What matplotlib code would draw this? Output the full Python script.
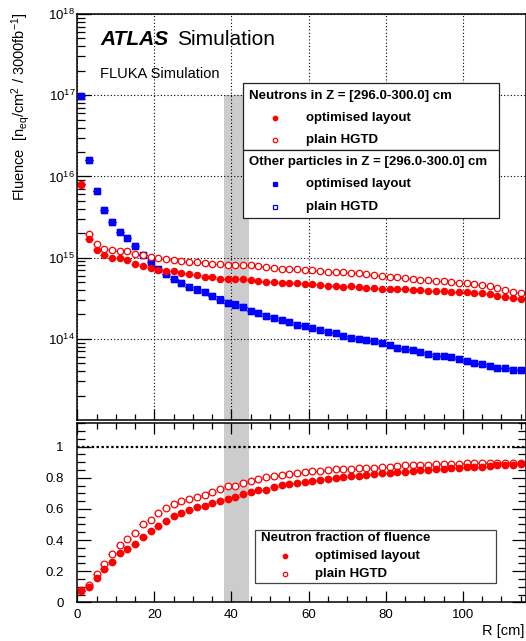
import numpy as np
import matplotlib.pyplot as plt
from matplotlib.patches import Rectangle
from matplotlib.lines import Line2D
from matplotlib.ticker import MultipleLocator, LogLocator, NullFormatter

plt.rcParams['font.family'] = ['Liberation Sans', 'DejaVu Sans']
plt.rcParams['mathtext.fontset'] = 'custom'
plt.rcParams['mathtext.rm'] = 'Liberation Sans'
plt.rcParams['mathtext.it'] = 'Liberation Sans:italic'
plt.rcParams['mathtext.bf'] = 'Liberation Sans:bold'

# bin centres in R [cm]
R = [1, 3, 5, 7, 9, 11, 13, 15, 17, 19,
     21, 23, 25, 27, 29, 31, 33, 35, 37, 39,
     41, 43, 45, 47, 49, 51, 53, 55, 57, 59,
     61, 63, 65, 67, 69, 71, 73, 75, 77, 79,
     81, 83, 85, 87, 89, 91, 93, 95, 97, 99,
     101, 103, 105, 107, 109, 111, 113, 115]

# neutron fluence, optimised layout
neut_opt = [7.9e15, 1.70e15, 1.25e15, 1.08e15, 9.9e14, 9.8e14, 9.3e14, 8.4e14, 7.9e14, 7.5e14,
            7.1e14, 6.9e14, 6.85e14, 6.5e14, 6.3e14, 6.05e14, 5.8e14, 5.7e14, 5.46e14, 5.5e14,
            5.4e14, 5.4e14, 5.35e14, 5.1e14, 5.06e14, 5.0e14, 4.9e14, 4.88e14, 4.82e14, 4.73e14,
            4.7e14, 4.6e14, 4.5e14, 4.48e14, 4.38e14, 4.42e14, 4.38e14, 4.27e14, 4.24e14, 4.14e14,
            4.1e14, 4.1e14, 4.06e14, 3.99e14, 3.96e14, 3.92e14, 3.89e14, 3.84e14, 3.8e14, 3.77e14,
            3.73e14, 3.7e14, 3.62e14, 3.52e14, 3.4e14, 3.24e14, 3.15e14, 3.09e14]
# neutron fluence, plain HGTD
neut_plain = [8.0e15, 1.96e15, 1.49e15, 1.29e15, 1.25e15, 1.22e15, 1.2e15, 1.11e15, 1.08e15, 1.03e15,
              9.9e14, 9.6e14, 9.45e14, 9.2e14, 8.9e14, 8.8e14, 8.6e14, 8.36e14, 8.3e14, 8.04e14,
              8.0e14, 8.1e14, 8.0e14, 7.8e14, 7.6e14, 7.38e14, 7.34e14, 7.18e14, 7.14e14, 7.05e14,
              7.0e14, 6.85e14, 6.72e14, 6.62e14, 6.6e14, 6.47e14, 6.43e14, 6.22e14, 6.13e14, 6.0e14,
              5.82e14, 5.73e14, 5.55e14, 5.46e14, 5.35e14, 5.3e14, 5.2e14, 5.1e14, 5.06e14, 4.91e14,
              4.87e14, 4.73e14, 4.6e14, 4.43e14, 4.23e14, 3.99e14, 3.78e14, 3.63e14]
# other particles, optimised layout
other_opt = [9.7e16, 1.58e16, 6.6e15, 3.9e15, 2.73e15, 2.07e15, 1.73e15, 1.38e15, 1.08e15, 8.9e14,
             7.25e14, 6.2e14, 5.5e14, 4.8e14, 4.3e14, 4.03e14, 3.8e14, 3.33e14, 3.03e14, 2.76e14,
             2.63e14, 2.44e14, 2.22e14, 2.05e14, 1.92e14, 1.8e14, 1.72e14, 1.59e14, 1.5e14, 1.43e14,
             1.36e14, 1.29e14, 1.2e14, 1.18e14, 1.09e14, 1.03e14, 1.0e14, 9.6e13, 9.3e13, 8.85e13,
             8.3e13, 7.8e13, 7.46e13, 7.2e13, 6.8e13, 6.5e13, 6.2e13, 6.1e13, 5.9e13, 5.6e13,
             5.35e13, 5.05e13, 4.87e13, 4.6e13, 4.35e13, 4.42e13, 4.14e13, 4.1e13]
# other particles, plain HGTD (sits under the optimised points)
other_plain = [9.7e16, 1.58e16, 6.6e15, 3.9e15, 2.73e15, 2.07e15, 1.73e15, 1.38e15, 1.08e15, 8.9e14,
               7.3e14, 6.2e14, 5.5e14, 4.8e14, 4.3e14, 4.05e14, 3.8e14, 3.35e14, 3.05e14, 2.75e14,
               2.65e14, 2.45e14, 2.22e14, 2.05e14, 1.92e14, 1.8e14, 1.72e14, 1.59e14, 1.5e14, 1.43e14,
               1.36e14, 1.29e14, 1.2e14, 1.18e14, 1.09e14, 1.03e14, 1.0e14, 9.6e13, 9.3e13, 8.85e13,
               8.3e13, 7.8e13, 7.46e13, 7.2e13, 6.8e13, 6.5e13, 6.2e13, 6.1e13, 5.9e13, 5.6e13,
               5.35e13, 5.05e13, 4.87e13, 4.6e13, 4.35e13, 4.42e13, 4.14e13, 4.1e13]

# neutron fraction of fluence
frac_opt = [0.075, 0.10, 0.154, 0.214, 0.261, 0.319, 0.342, 0.376, 0.417, 0.456,
            0.492, 0.524, 0.552, 0.573, 0.593, 0.61, 0.616, 0.64, 0.652, 0.665,
            0.678, 0.694, 0.71, 0.719, 0.723, 0.738, 0.751, 0.762, 0.764, 0.773,
            0.781, 0.785, 0.792, 0.796, 0.805, 0.811, 0.813, 0.82, 0.822, 0.828,
            0.83, 0.835, 0.839, 0.841, 0.848, 0.852, 0.854, 0.858, 0.861, 0.864,
            0.867, 0.871, 0.871, 0.875, 0.88, 0.882, 0.882, 0.886]
frac_plain = [0.078, 0.109, 0.184, 0.246, 0.312, 0.37, 0.408, 0.443, 0.501, 0.531,
              0.573, 0.608, 0.629, 0.65, 0.665, 0.678, 0.687, 0.706, 0.73, 0.747,
              0.749, 0.765, 0.781, 0.792, 0.805, 0.811, 0.816, 0.824, 0.828, 0.835,
              0.841, 0.845, 0.85, 0.854, 0.856, 0.856, 0.862, 0.865, 0.865, 0.869,
              0.871, 0.875, 0.88, 0.88, 0.884, 0.884, 0.886, 0.888, 0.888, 0.89,
              0.893, 0.893, 0.895, 0.897, 0.897, 0.895, 0.893, 0.893]

band = [38.0, 44.5]   # HGTD gap region
bin_half = 1.0

W, H = 526, 641
fig = plt.figure(figsize=(W/100, H/100), dpi=100)

def fx(px):
    return px / W

def fy(py):
    return 1 - py / H

x0 = 77.3
ax1 = fig.add_axes([fx(x0), fy(420), 1 - fx(x0), (420 - 14)/H])
ax2 = fig.add_axes([fx(x0), fy(602.3), 1 - fx(x0), (602.3 - 423)/H])

# ---- top panel: fluence
ax1.set_yscale('log')
ax1.set_xlim(0, 116.4)
ax1.set_ylim(1e13, 1e18)
ax1.fill_between(band, 1e13, 1e17, color='#cccccc', lw=0, zorder=0.5)
ax1.grid(True, which='major', color='black', ls=(0, (1, 2)), lw=0.8)

ekw = dict(xerr=bin_half, capsize=0, elinewidth=0.8, ls='none')
ax1.errorbar(R, other_plain, fmt='s', ms=5.0, mfc='white', mec='blue', mew=0.9, ecolor='blue', **ekw)
ax1.errorbar(R, other_opt, fmt='s', ms=5.0, mfc='blue', mec='blue', ecolor='blue', **ekw)
ax1.errorbar(R, neut_plain, fmt='o', ms=4.6, mfc='white', mec='red', mew=0.9, ecolor='red', **ekw)
ax1.errorbar(R, neut_opt, fmt='o', ms=4.4, mfc='red', mec='red', ecolor='red', **ekw)

ax1.set_yticks([1e14, 1e15, 1e16, 1e17, 1e18])
ax1.yaxis.set_minor_locator(LogLocator(base=10, subs=np.arange(2, 10)))
ax1.yaxis.set_minor_formatter(NullFormatter())
ax1.xaxis.set_major_locator(MultipleLocator(20))
ax1.xaxis.set_minor_locator(MultipleLocator(5))
ax1.tick_params(axis='x', which='both', direction='in', labelbottom=False)
ax1.tick_params(axis='x', which='major', length=8, width=0.9)
ax1.tick_params(axis='x', which='minor', length=4, width=0.9)
ax1.tick_params(axis='y', which='major', direction='in', length=10, width=0.9, pad=1.5, labelsize=9.5)
ax1.tick_params(axis='y', which='minor', direction='in', length=5.5, width=0.9)

# ---- bottom panel: neutron fraction
ax2.set_xlim(0, 116.4)
ax2.set_ylim(0, 1.152)
ax2.axvspan(band[0], band[1], color='#cccccc', lw=0, zorder=0.5)
ax2.axhline(1.0, color='black', lw=1.6, ls=(0, (1.1, 1.1)), zorder=1.5)
ax2.errorbar(R, frac_plain, fmt='o', ms=4.8, mfc='white', mec='red', mew=0.9, ecolor='red', **ekw)
ax2.errorbar(R, frac_opt, fmt='o', ms=4.6, mfc='red', mec='red', ecolor='red', **ekw)
ax2.xaxis.set_major_locator(MultipleLocator(20))
ax2.xaxis.set_minor_locator(MultipleLocator(5))
ax2.set_yticks([0, 0.2, 0.4, 0.6, 0.8, 1])
ax2.set_yticklabels(['0', '0.2', '0.4', '0.6', '0.8', '1'])
ax2.yaxis.set_minor_locator(MultipleLocator(0.05))
ax2.tick_params(axis='x', which='both', direction='in', top=True, labelsize=9.5, pad=5)
ax2.tick_params(axis='x', which='major', length=8, width=0.9)
ax2.tick_params(axis='x', which='minor', length=4, width=0.9)
ax2.tick_params(axis='y', which='both', direction='in', right=True, labelsize=9.5, pad=10)
ax2.tick_params(axis='y', which='major', length=10, width=0.9)
ax2.tick_params(axis='y', which='minor', length=5.5, width=0.9)

for ax in (ax1, ax2):
    for s in ax.spines.values():
        s.set_linewidth(1.1)

# ---- texts
fig.text(fx(100), fy(45), 'ATLAS', fontsize=15, fontweight='bold', fontstyle='italic', va='baseline')
fig.text(fx(176.7), fy(45), 'Simulation', fontsize=15, va='baseline')
fig.text(fx(100), fy(78), 'FLUKA Simulation', fontsize=10.5, va='baseline')
fig.text(fx(21), fy(13), r'Fluence  [n$_{\rm eq}$/cm$^{2}$ / 3000fb$^{-1}$]',
         fontsize=10.5, rotation=90, ha='center', va='top')
fig.text(fx(524), fy(631), 'R [cm]', fontsize=10.5, ha='right', va='center')

# ---- legends drawn as boxes with marker + label rows
def box(x1, y1, x2, y2, ec='#222222'):
    fig.add_artist(Rectangle((fx(x1), fy(y2)), fx(x2) - fx(x1), fy(y1) - fy(y2),
                             transform=fig.transFigure, facecolor='white',
                             edgecolor=ec, lw=0.9, zorder=5))

def title(x, y, s):
    fig.text(fx(x), fy(y), s, fontsize=9.5, fontweight='bold', va='center', zorder=6)

def entry(xm, xt, y, s, marker, color, filled):
    fig.add_artist(Line2D([fx(xm)], [fy(y)], transform=fig.transFigure, marker=marker,
                          ms=3.2, mec=color, mfc=color if filled else 'white', mew=0.9,
                          ls='none', zorder=6))
    fig.text(fx(xt), fy(y), s, fontsize=9.5, fontweight='bold', va='center', zorder=6)

box(243, 83.3, 499.3, 150.3)
box(243, 150.3, 499.3, 217.7)
title(249, 95.5, 'Neutrons in Z = [296.0-300.0] cm')
entry(275, 306, 117.7, 'optimised layout', 'o', 'red', True)
entry(275, 306, 140, 'plain HGTD', 'o', 'red', False)
title(249, 161.5, 'Other particles in Z = [296.0-300.0] cm')
entry(275, 306, 184.3, 'optimised layout', 's', 'blue', True)
entry(275, 306, 206.7, 'plain HGTD', 's', 'blue', False)

box(255.3, 530, 496, 582.7, ec='#444444')
title(261, 537.8, 'Neutron fraction of fluence')
entry(285, 315, 555.7, 'optimised layout', 'o', 'red', True)
entry(285, 315, 574.3, 'plain HGTD', 'o', 'red', False)

fig.savefig('out.png', dpi=100)
